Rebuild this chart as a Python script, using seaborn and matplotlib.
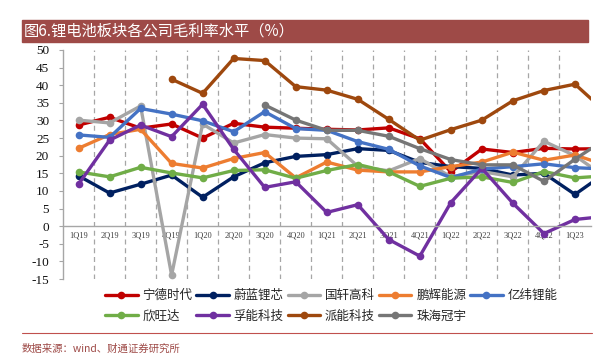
"""Gross margin of lithium battery companies, quarterly line chart."""

import matplotlib

matplotlib.use("Agg")

import matplotlib.pyplot as plt
import numpy as np
import pandas as pd
import seaborn as sns
from matplotlib.lines import Line2D
from matplotlib.patches import Rectangle

# Quarter labels (2Q23 only shows as a line running off the right edge)
quarters = ['1Q19', '2Q19', '3Q19', '4Q19', '1Q20', '2Q20', '3Q20', '4Q20', '1Q21',
            '2Q21', '3Q21', '4Q21', '1Q22', '2Q22', '3Q22', '4Q22', '1Q23', '2Q23']

catl = [28.7, 30.9, 27.8, 29.0, 25.0, 29.2, 28.1, 27.8, 27.5,
        27.3, 27.9, 24.8, 15.4, 21.9, 20.9, 22.1, 21.9, 22.0]
changzhou = [14.3, 9.4, 11.9, 14.5, 8.2, 14.0, 18.0, 19.8, 20.3,
             22.0, 21.5, 18.1, 16.9, 16.4, 14.5, 15.0, 9.0, 15.2]
gotion = [30.1, 29.3, 34.1, -13.9, 29.0, 23.6, 26.0, 25.0, 24.8,
          17.0, 15.7, 19.2, 14.0, 15.5, 14.0, 24.1, 20.0, 13.8]
greatpower = [22.1, 26.0, 27.5, 17.8, 16.5, 19.2, 20.9, 13.7, 18.2,
              15.9, 15.4, 15.4, 16.9, 18.2, 21.0, 18.7, 20.2, 17.3]
eve = [25.9, 25.2, 33.4, 31.8, 29.9, 26.8, 32.5, 27.7, 27.2,
       24.0, 21.8, 17.1, 13.8, 16.2, 16.9, 17.7, 16.6, 16.2]
sunwoda = [15.4, 14.0, 16.7, 15.1, 13.7, 15.8, 16.0, 13.6, 15.8,
           17.5, 15.4, 11.3, 13.6, 14.0, 12.4, 15.5, 13.7, 14.3]
farasis = [11.9, 24.4, 28.7, 25.4, 34.6, 21.8, 11.0, 12.6, 3.9,
           6.1, -3.8, -8.5, 6.7, 16.4, 6.5, -2.1, 1.9, 2.8]
pylon = [np.nan, np.nan, np.nan, 41.7, 37.7, 47.6, 47.0, 39.6, 38.6,
         36.0, 30.3, 24.4, 27.4, 30.1, 35.6, 38.5, 40.3, 32.3]
cosmx = [np.nan, np.nan, np.nan, np.nan, np.nan, np.nan, 34.4, 30.1, 27.2,
         27.2, 25.5, 22.0, 18.9, 17.4, 17.4, 12.7, 19.0, 24.8]

companies = ['宁德时代', '蔚蓝锂芯', '国轩高科', '鹏辉能源', '亿纬锂能',
             '欣旺达', '孚能科技', '派能科技', '珠海冠宇']
colors = ['#C00000', '#002060', '#A5A5A5', '#ED7D31', '#4472C4',
          '#70AD47', '#7030A0', '#9E480E', '#767676']

title = '图6.锂电池板块各公司毛利率水平（%）'
source = '数据来源：wind、财通证券研究所'

W, H = 611, 357
LW = 2.4
MS = 5.5

# Long-form table for seaborn
df = pd.DataFrame(dict(zip(companies, [catl, changzhou, gotion, greatpower, eve,
                                       sunwoda, farasis, pylon, cosmx])))
df['pos'] = np.arange(len(quarters))
long_df = df.melt(id_vars='pos', var_name='company', value_name='margin').dropna()

sns.set_theme(style="white")
plt.rcParams['font.family'] = ['Noto Sans CJK SC', 'DejaVu Sans']
plt.rcParams['axes.unicode_minus'] = False

fig = plt.figure(figsize=(W / 100, H / 100), dpi=100)
ax = fig.add_axes([63 / W, 1 - 279 / H, 527.5 / W, 229 / H])

sns.lineplot(
    data=long_df, x='pos', y='margin', hue='company', hue_order=companies,
    palette=colors, marker='o', markersize=MS, markeredgewidth=0,
    linewidth=LW, errorbar=None, legend=False, ax=ax,
)

# Axes: category axis crosses at zero, dashed separators between quarters
ax.set_yticks(range(-15, 51, 5))
ax.set_xticks(range(len(quarters)), labels=quarters)
ax.set_xticks(np.arange(0.5, 16, 1), minor=True)
# limits after the ticks, so the cut-off last quarter stays outside
ax.set_xlim(-0.5, 16.5)
ax.set_ylim(-15, 50)
ax.set_xlabel('')
ax.set_ylabel('')

ax.spines['bottom'].set_position(('data', 0))
ax.spines[['top', 'right']].set_visible(False)
for side in ['left', 'bottom']:
    ax.spines[side].set_color('#A6A6A6')
    ax.spines[side].set_linewidth(1.0)

ax.tick_params(axis='x', which='both', length=0, pad=4, labelsize=6, labelcolor='#404040')
ax.tick_params(axis='y', length=3, width=0.8, color='#A6A6A6', pad=7,
               labelsize=9.5, labelcolor='#111111', left=True)
for lab in ax.get_xticklabels() + ax.get_yticklabels():
    lab.set_fontfamily('Liberation Serif')

ax.set_axisbelow(True)
ax.grid(False)
ax.grid(which='minor', axis='x', linestyle=(0, (4, 3)), color='#A6A6A6', linewidth=0.9)

# Title bar
fig.patches.append(Rectangle((22 / W, 1 - 42 / H), (588 - 22) / W, 22 / H,
                             transform=fig.transFigure, color='#9E4A47', zorder=0))
fig.text(24 / W, 1 - 31 / H, title, color='white', fontsize=11, va='center')

# Legend: two rows, filled row by row
handles = [Line2D([], [], color=c, lw=LW, marker='o', markersize=MS, markeredgewidth=0)
           for c in colors]
order = [0, 5, 1, 6, 2, 7, 3, 8, 4]
fig.legend(
    [handles[i] for i in order], [companies[i] for i in order],
    ncol=5, loc='upper left', bbox_to_anchor=(105 / W, 1 - 289 / H),
    frameon=False, fontsize=9, handlelength=2.6, handletextpad=0.4,
    columnspacing=0.3, labelspacing=0.6, borderpad=0, borderaxespad=0,
)

# Footer
fig.add_artist(Line2D([22 / W, 592 / W], [1 - 333 / H] * 2, transform=fig.transFigure,
                      color='#C0504D', linewidth=0.8))
fig.text(22 / W, 1 - 349 / H, source, color='#9E4A47', fontsize=7.5, va='center')

fig.savefig('out.png', dpi=100)
plt.close(fig)
